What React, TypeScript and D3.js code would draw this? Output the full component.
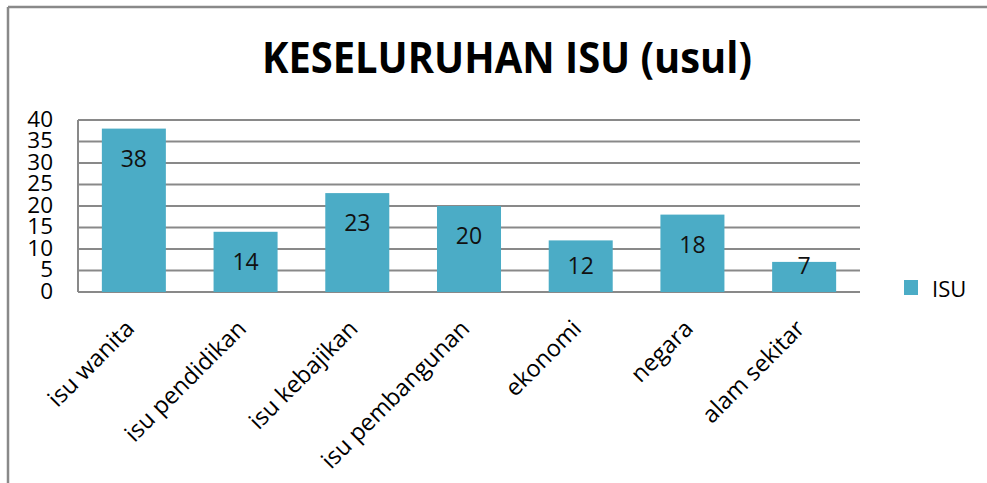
import React from "react";
import * as d3 from "d3";

const categories = ["isu wanita", "isu pendidikan", "isu kebajikan", "isu pembangunan", "ekonomi", "negara", "alam sekitar"];
const values = [38, 14, 23, 20, 12, 18, 7];
const yTicks = [0, 5, 10, 15, 20, 25, 30, 35, 40];
const title = "KESELURUHAN ISU (usul)";
const seriesName = "ISU";

const W = 987;
const H = 483;
const FONT = "'Open Sans', 'DejaVu Sans', sans-serif";
const BAR = "#4BACC6";
const GRID = "#898989";

export default function App() {
  const x = d3.scaleBand<string>().domain(categories).range([78, 860]).paddingInner(0.427).paddingOuter(0.2135);
  const y = d3.scaleLinear().domain([0, 40]).range([292, 120]);

  return (
    <svg width={W} height={H} style={{ position: "absolute", left: 0, top: 0, background: "#fff" }}>
      {/* frame */}
      <line x1={8} y1={7} x2={W} y2={7} stroke={GRID} strokeWidth={2.5} />
      <line x1={8} y1={7} x2={8} y2={H} stroke={GRID} strokeWidth={2.5} />

      {/* title */}
      <text x={507} y={73} textAnchor="middle" fontFamily={FONT} fontWeight="bold" fontSize={43} textLength={490} lengthAdjust="spacingAndGlyphs" fill="#000">
        {title}
      </text>

      {/* gridlines */}
      {yTicks.map((t) => (
        <line key={t} x1={78} x2={860} y1={y(t)} y2={y(t)} stroke={GRID} strokeWidth={2} />
      ))}
      <line x1={78} x2={78} y1={y(40)} y2={y(0)} stroke={GRID} strokeWidth={2} />

      {/* y tick labels */}
      {yTicks.map((t) => (
        <text key={t} x={53} y={y(t) - 1} dy="0.35em" textAnchor="end" fontFamily={FONT} fontSize={22.5} fill="#000">
          {t}
        </text>
      ))}

      {/* bars */}
      {categories.map((c, i) => (
        <rect key={c} x={x(c)} y={y(values[i])} width={x.bandwidth()} height={y(0) - y(values[i])} fill={BAR} />
      ))}

      {/* data labels */}
      {categories.map((c, i) => {
        const top = y(values[i]);
        const cy = Math.min(top + 30, y(0) - 26);
        return (
          <text key={c} x={(x(c) as number) + x.bandwidth() / 2} y={cy} dy="0.35em" textAnchor="middle" fontFamily={FONT} fontSize={23} fill="#111">
            {values[i]}
          </text>
        );
      })}

      {/* x labels */}
      {categories.map((c) => {
        const cx = (x(c) as number) + x.bandwidth() / 2;
        return (
          <text key={c} transform={`translate(${cx + 2},${330}) rotate(-45)`} textAnchor="end" fontFamily={FONT} fontSize={23.5} fill="#000">
            {c}
          </text>
        );
      })}

      {/* legend */}
      <rect x={904} y={280} width={14} height={15} fill={BAR} />
      <text x={932} y={297} fontFamily={FONT} fontSize={22} fill="#000">{seriesName}</text>
    </svg>
  );
}
